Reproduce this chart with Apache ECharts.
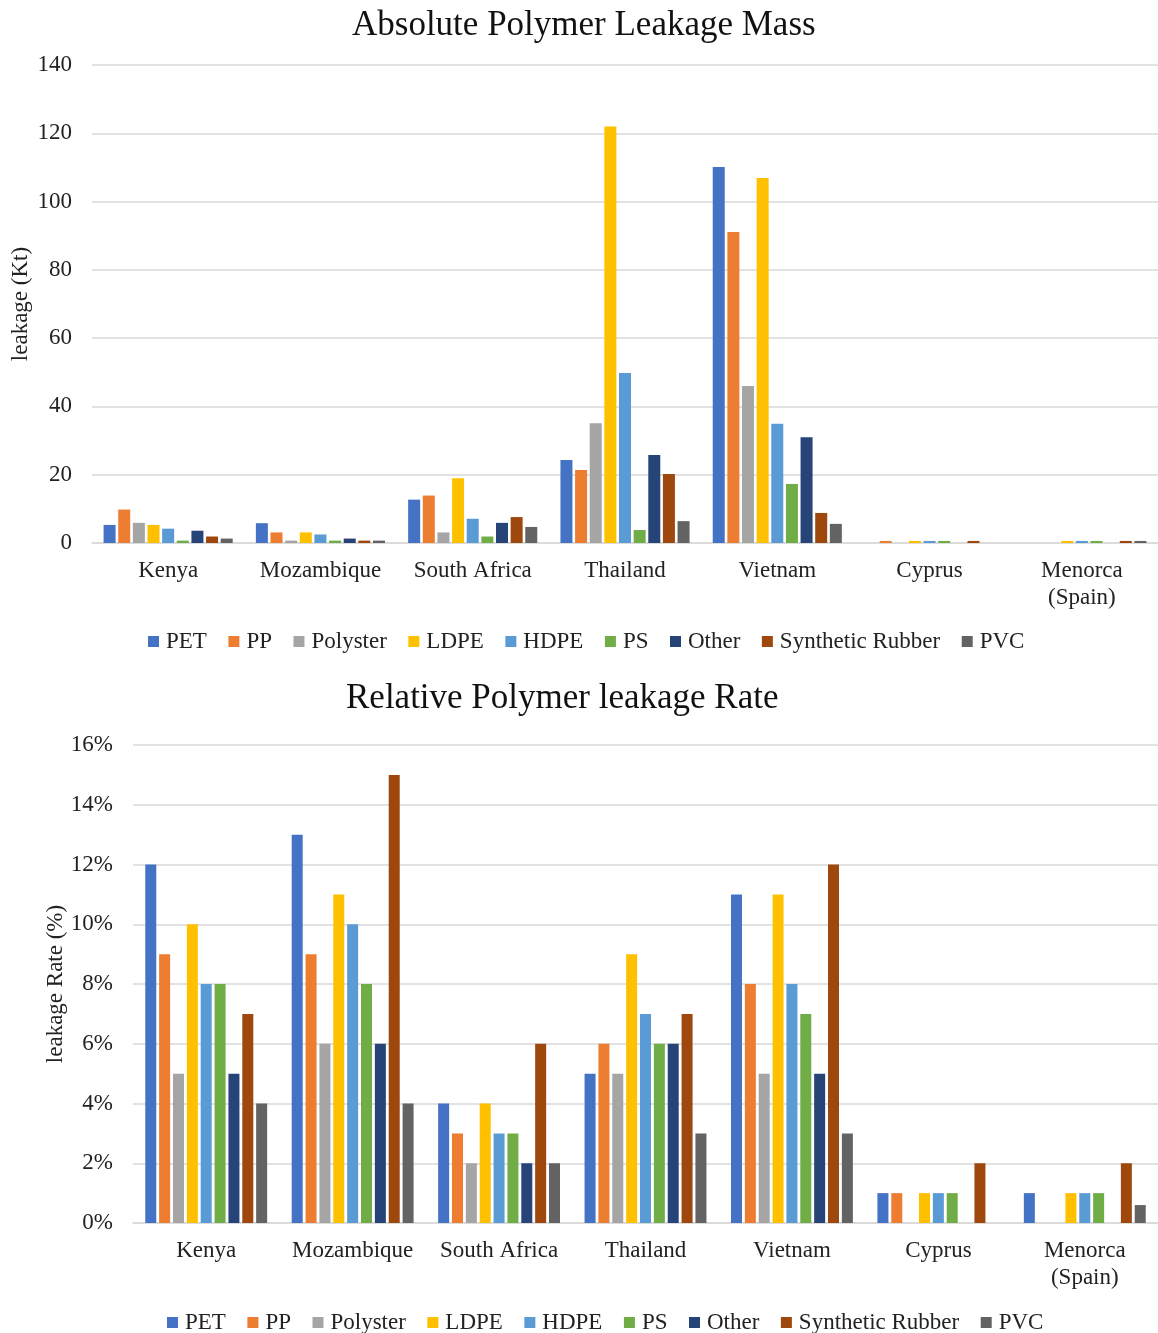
<!DOCTYPE html>
<html><head><meta charset="utf-8">
<script src="https://cdn.jsdelivr.net/npm/echarts@6/dist/echarts.min.js"></script>
<style>html,body{margin:0;padding:0;background:#fff}#c{width:1158px;height:1333px}</style>
</head><body><div id="c"></div>
<script>
const categories = ['Kenya','Mozambique','South Africa','Thailand','Vietnam','Cyprus','Menorca\n(Spain)'];
const polymers = ['PET','PP','Polyster','LDPE','HDPE','PS','Other','Synthetic Rubber','PVC'];
const colors = ['#4472C4','#ED7D31','#A5A5A5','#FFC000','#5B9BD5','#70AD47','#264478','#9E480E','#636363'];
// Absolute leakage (Kt), per polymer, across categories
const massPET       = [5.3, 5.8, 12.7, 24.3, 110.1, 0, 0];
const massPP        = [9.8, 3.1, 13.9, 21.4, 91.1, 0.6, 0];
const massPolyster  = [5.9, 0.7, 3.1, 35.1, 46.0, 0, 0];
const massLDPE      = [5.3, 3.1, 19.0, 122.0, 106.9, 0.6, 0.6];
const massHDPE      = [4.2, 2.5, 7.1, 49.8, 34.9, 0.6, 0.6];
const massPS        = [0.7, 0.7, 1.9, 3.8, 17.3, 0.6, 0.6];
const massOther     = [3.6, 1.3, 5.9, 25.8, 31.0, 0, 0];
const massRubber    = [1.9, 0.7, 7.6, 20.2, 8.8, 0.6, 0.6];
const massPVC       = [1.3, 0.7, 4.7, 6.4, 5.6, 0, 0.6];
// Relative leakage rate (%)
const ratePET       = [12, 13, 4, 5, 11, 1, 1];
const ratePP        = [9, 9, 3, 6, 8, 1, 0];
const ratePolyster  = [5, 6, 2, 5, 5, 0, 0];
const rateLDPE      = [10, 11, 4, 9, 11, 1, 1];
const rateHDPE      = [8, 10, 3, 7, 8, 1, 1];
const ratePS        = [8, 8, 3, 6, 7, 1, 1];
const rateOther     = [5, 6, 2, 6, 5, 0, 0];
const rateRubber    = [7, 15, 6, 7, 12, 2, 2];
const ratePVC       = [4, 4, 2, 3, 3, 0, 0.6];
const massTicks = {min: 0, max: 140, interval: 20};
const rateTicks = {min: 0, max: 16, interval: 2};

const massData = [massPET, massPP, massPolyster, massLDPE, massHDPE, massPS, massOther, massRubber, massPVC];
const rateData = [ratePET, ratePP, ratePolyster, rateLDPE, rateHDPE, ratePS, rateOther, rateRubber, ratePVC];

const FONT = '"Liberation Serif", "Times New Roman", serif';
const grid = '#D9D9D9';
const series = [];
polymers.forEach((p, i) => {
  series.push({name: p, type: 'bar', xAxisIndex: 0, yAxisIndex: 0, data: massData[i],
    barWidth: 12, barGap: '22%', itemStyle: {color: colors[i]}});
});
polymers.forEach((p, i) => {
  series.push({name: p, type: 'bar', xAxisIndex: 1, yAxisIndex: 1, data: rateData[i],
    barWidth: 11, barGap: '26%', itemStyle: {color: colors[i]}});
});
const xAx = (gi) => ({type: 'category', gridIndex: gi, data: categories,
  axisLine: {lineStyle: {color: grid, width: 1.5}}, axisTick: {show: false},
  axisLabel: {interval: 0, color: '#222', fontFamily: FONT, fontSize: 23, margin: 14, lineHeight: 27}});
const yAx = (gi, t, fmt, name, gap) => ({type: 'value', gridIndex: gi, min: t.min, max: t.max, interval: t.interval,
  name: name, nameLocation: 'middle', nameGap: gap, nameRotate: 90, nameMoveOverlap: false,
  nameTextStyle: {color: '#222', fontFamily: FONT, fontSize: 23},
  splitLine: {lineStyle: {color: grid, width: 1.5}}, axisLine: {show: false}, axisTick: {show: false},
  axisLabel: {color: '#222', fontFamily: FONT, fontSize: 23, margin: 20, formatter: fmt}});
const legend = (top, left) => ({top: top, left: left, data: polymers, itemWidth: 11, itemHeight: 11, itemGap: 21.5,
  icon: 'rect', textStyle: {color: '#222', fontFamily: FONT, fontSize: 23, padding: [0,0,0,2]}});
const chart = echarts.init(document.getElementById('c'));
chart.setOption({
  animation: false,
  title: [
    {text: 'Absolute Polymer Leakage Mass', left: 347, top: 3, textStyle: {color: '#111', fontFamily: FONT, fontSize: 35, fontWeight: 'normal'}},
    {text: 'Relative Polymer leakage Rate', left: 341, top: 676, textStyle: {color: '#111', fontFamily: FONT, fontSize: 35, fontWeight: 'normal'}}
  ],
  legend: [legend(625, 143), legend(1306, 162)],
  grid: [
    {left: 92, right: 0, top: 65, height: 478, containLabel: false, outerBoundsMode: 'none'},
    {left: 133, right: 0, top: 745, height: 478, containLabel: false, outerBoundsMode: 'none'}
  ],
  xAxis: [xAx(0), xAx(1)],
  yAxis: [
    yAx(0, massTicks, '{value}', 'leakage (Kt)', 60),
    yAx(1, rateTicks, '{value}%', 'leakage Rate (%)', 66)
  ],
  series: series
});
</script></body></html>
